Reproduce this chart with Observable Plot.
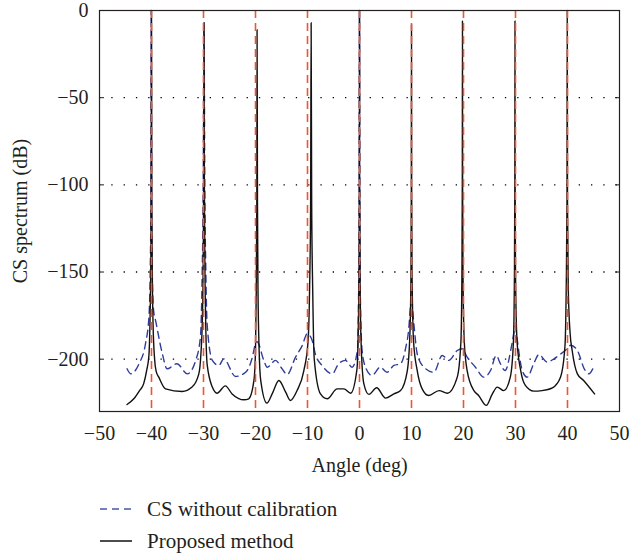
<!DOCTYPE html>
<html><head><meta charset="utf-8">
<script src="https://cdn.jsdelivr.net/npm/d3@7"></script>
<script src="https://cdn.jsdelivr.net/npm/@observablehq/plot@0.6"></script>
<style>
body{margin:0;background:#fff;font-family:"Liberation Serif","DejaVu Serif","Times New Roman",serif;}
#chart{position:absolute;left:0;top:0;}
.legend{position:absolute;left:100px;font-size:21px;color:#231f20;display:flex;align-items:center;height:24px;}
.legend svg{margin-right:15px;}
</style></head><body>
<div id="chart"></div>
<div class="legend" style="top:497px"><svg width="32" height="4"><line x1="0" y1="2" x2="32" y2="2" stroke="#4a55a8" stroke-width="1.5" stroke-dasharray="7,5"/></svg><span id="lg1"></span></div>
<div class="legend" style="top:529px"><svg width="32" height="4"><line x1="0" y1="2" x2="32" y2="2" stroke="#111" stroke-width="1.5"/></svg><span id="lg2"></span></div>
<script>
const seriesNames = ["CS without calibration", "Proposed method"];
const xTicks = [-50, -40, -30, -20, -10, 0, 10, 20, 30, 40, 50];
const yTicks = [0, -50, -100, -150, -200];
const gridTicks = [-50, -100, -150, -200];
const trueAngles = [-40, -30, -20, -10, 0, 10, 20, 30, 40];

// CS without calibration (blue dashed)
const blueAngle = [-44.7,-44,-42.4,-41.15,-40.5,-40.25,-40.12,-40.05,-39.98,-39.85,-39.6,-39.2,-37.9,-37,-35.1,-33.1,-31.5,-30.6,-30.25,-30.05,-29.9,-29.75,-29.55,-29.3,-28.3,-27.05,-26.1,-23.85,-21.9,-20.6,-20,-19.7,-18.4,-17.75,-16.15,-14.9,-13.9,-12.3,-11,-10.05,-9.1,-8.5,-7.2,-5.25,-4,-2.7,-1.4,-0.4,-0.2,-0.07,0,0.07,0.2,0.5,1.15,2.4,4,5.3,6.6,7.9,8.85,9.5,9.8,10,10.45,11.1,12.4,14.3,15.9,17.2,18.8,19.75,20.7,22.3,23.9,25.2,26.3,27.1,28,29.4,30,30.3,31.3,32.25,33.5,34.5,36.1,37.4,38.3,39.9,40.6,41.9,43.3,44.1,45];
const blueDb = [-205.5,-208.4,-202.6,-191,-176,-150,-110,0,-110,-150,-172,-178,-197,-205.5,-202.6,-208.4,-200.7,-187.4,-150,-100,-7,-100,-150,-180,-200.7,-203.6,-199.8,-209.9,-207.5,-198.8,-191,-190,-200.7,-204.6,-200.7,-205.5,-208.8,-198.8,-192.1,-185.4,-189.3,-197,-203.6,-208.4,-202.6,-200.7,-204.6,-195,-170,-110,0,-110,-170,-195,-204.6,-209.3,-204.6,-207.5,-203.6,-202.6,-194,-181.6,-170,-167,-179.7,-197,-204.6,-207.5,-197.9,-200.7,-195,-194,-198.8,-204.6,-210.3,-206.5,-197.9,-202.6,-206.5,-190,-181,-188,-206.5,-210.3,-202.6,-197.3,-201.7,-199.8,-197.9,-194,-192,-195,-206,-208.4,-204.6];

// Proposed method (black solid)
const blackAngle = [-44.7,-43.4,-42.3,-41.5,-40.9,-40.5,-40.3,-40.15,-40.06,-40,-39.94,-39.85,-39.7,-39.4,-39.1,-38.6,-37.3,-34.1,-32.2,-30.9,-30.5,-30.2,-30.05,-29.97,-29.9,-29.83,-29.75,-29.6,-29.3,-28.3,-27.4,-25.8,-24.5,-22.2,-21.3,-20.3,-20,-19.85,-19.75,-19.7,-19.62,-19.52,-19.3,-19,-17.8,-16.8,-15.5,-14.2,-13.3,-12,-10.7,-9.9,-9.6,-9.4,-9.3,-9.2,-9.0,-8.7,-7.5,-6.2,-4.3,-3,-1.7,-0.5,-0.25,-0.1,-0.03,0,0.03,0.1,0.3,0.83,1.8,3.3,5,6.6,7.9,9.2,9.7,9.9,9.97,10,10.03,10.1,10.4,11.1,12.05,13.3,15.3,16.9,18.8,19.5,19.7,19.77,19.8,19.83,19.9,20.15,20.7,22,22.9,24.4,25.5,26.5,27.75,29,29.6,29.8,29.87,29.9,29.93,30,30.3,31,31.9,33.5,35.1,37.1,38.65,39.5,39.75,39.9,39.95,40,40.15,40.5,40.9,41.9,43.1,45.2];
const blackDb = [-226,-222.7,-218,-214,-206,-198,-180,-150,-110,0,-110,-150,-180,-200,-207,-210.3,-217,-218.5,-216,-208.4,-197,-175,-140,-100,-7,-100,-140,-175,-203,-216,-219.5,-215.3,-219.9,-223.3,-222.7,-212.2,-195,-160,-110,-11,-110,-160,-195,-212,-225.2,-219.9,-212.2,-218.9,-223.7,-218,-206.5,-190,-160,-110,-7,-110,-160,-200,-219.9,-222.7,-217,-217,-219.5,-206,-185,-150,-100,0,-100,-150,-190,-214,-220.2,-216.4,-222.3,-219.9,-218,-206.5,-185,-150,-100,-8,-100,-150,-190,-206.5,-217,-220.8,-218,-219.5,-210.3,-190,-150,-100,-6,-100,-150,-190,-206.5,-218,-220.8,-226.5,-220.2,-216,-218,-210.3,-190,-150,-100,-6,-100,-150,-190,-206.5,-215,-218.3,-218,-216.4,-210.3,-193,-160,-110,0,-110,-160,-185,-195,-208.4,-212.2,-219.9];

const blueData = blueAngle.map((a, i) => ({angle: a, db: blueDb[i]}));
const blackData = blackAngle.map((a, i) => ({angle: a, db: blackDb[i]}));
document.getElementById("lg1").textContent = seriesNames[0];
document.getElementById("lg2").textContent = seriesNames[1];

const chart = Plot.plot({
  width: 631, height: 490,
  marginLeft: 99, marginRight: 12, marginTop: 10, marginBottom: 79,
  style: {fontFamily: '"Liberation Serif", "DejaVu Serif", "Times New Roman", serif', fontSize: "20px", color: "#231f20", background: "#fff", overflow: "visible"},
  x: {domain: [-50, 50]},
  y: {domain: [-230, 0]},
  marks: [
    Plot.gridY(gridTicks, {stroke: "#000", strokeOpacity: 1, strokeWidth: 1.3, strokeDasharray: "1.3,11"}),
    Plot.line(blueData, {x: "angle", y: "db", stroke: "#2f3c99", strokeWidth: 1.4, strokeDasharray: "7,5", curve: "monotone-x"}),
    Plot.line(blackData, {x: "angle", y: "db", stroke: "#111", strokeWidth: 1.4, curve: "monotone-x"}),
    Plot.ruleX(trueAngles, {stroke: "#ef5433", strokeWidth: 1.6, strokeDasharray: "8,5"}),
    Plot.frame({stroke: "#231f20", strokeWidth: 1.2}),
    Plot.axisY(gridTicks, {anchor: "left", tickSize: -5, text: null, label: null, stroke: "#231f20"}),
    Plot.axisY(gridTicks, {anchor: "right", tickSize: -5, text: null, label: null, stroke: "#231f20"}),
    Plot.axisY(yTicks, {anchor: "left", tickSize: 0, tickPadding: 11, label: "CS spectrum (dB)", labelAnchor: "center", labelArrow: "none", labelOffset: 87, fontSize: 20}),
    Plot.axisX(xTicks, {anchor: "bottom", tickSize: 0, tickPadding: 14, label: "Angle (deg)", labelAnchor: "center", labelArrow: "none", labelOffset: 60, fontSize: 20})
  ]
});
document.getElementById("chart").appendChild(chart);
</script>
</body></html>
